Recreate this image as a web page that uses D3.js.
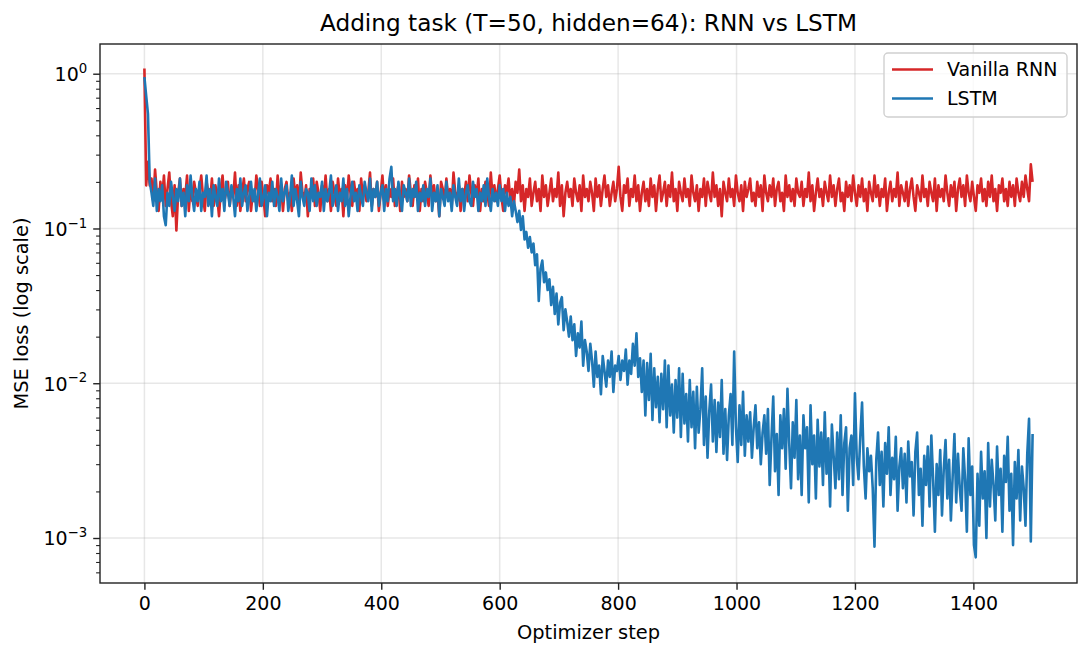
<!DOCTYPE html>
<html>
<head>
<meta charset="utf-8">
<script src="https://cdn.jsdelivr.net/npm/d3@7"></script>
<style>
  body { margin: 0; background: #fff; }
  svg { font-family: "DejaVu Sans", sans-serif; }
</style>
</head>
<body>
<div class="chart"></div>
<script>
const stepSize = 3;

const rnnLoss = [
  1.08, 0.19, 0.27, 0.19, 0.21, 0.15, 0.24, 0.17, 0.13, 0.20,
  0.16, 0.22, 0.14, 0.18, 0.23, 0.15, 0.12, 0.19, 0.097, 0.17,
  0.21, 0.14, 0.18, 0.16, 0.22, 0.13, 0.19, 0.15, 0.20, 0.17,
  0.14, 0.18, 0.22, 0.16, 0.13, 0.20, 0.17, 0.15, 0.21, 0.14,
  0.19, 0.16, 0.12, 0.18, 0.22, 0.15, 0.17, 0.20, 0.14, 0.18,
  0.16, 0.23, 0.14, 0.19, 0.13, 0.17, 0.21, 0.15, 0.18, 0.20,
  0.13, 0.17, 0.15, 0.22, 0.18, 0.14, 0.20, 0.16, 0.12, 0.19,
  0.17, 0.21, 0.15, 0.18, 0.14, 0.22, 0.16, 0.19, 0.13, 0.18,
  0.20, 0.15, 0.17, 0.13, 0.21, 0.16, 0.19, 0.14, 0.23, 0.17,
  0.15, 0.19, 0.12, 0.18, 0.16, 0.21, 0.14, 0.20, 0.17, 0.13,
  0.19, 0.16, 0.22, 0.15, 0.18, 0.13, 0.20, 0.17, 0.14, 0.21,
  0.16, 0.18, 0.12, 0.19, 0.15, 0.22, 0.17, 0.14, 0.20, 0.16,
  0.18, 0.13, 0.21, 0.16, 0.19, 0.15, 0.17, 0.23, 0.14, 0.18,
  0.16, 0.20, 0.13, 0.17, 0.22, 0.15, 0.19, 0.14, 0.18, 0.16,
  0.21, 0.14, 0.17, 0.19, 0.13, 0.20, 0.16, 0.18, 0.15, 0.22,
  0.17, 0.14, 0.19, 0.16, 0.21, 0.13, 0.18, 0.15, 0.20, 0.17,
  0.14, 0.22, 0.16, 0.19, 0.15, 0.17, 0.12, 0.20, 0.18, 0.15,
  0.21, 0.16, 0.18, 0.14, 0.23, 0.17, 0.15, 0.19, 0.13, 0.18,
  0.16, 0.20, 0.15, 0.22, 0.17, 0.14, 0.19, 0.16, 0.21, 0.13,
  0.18, 0.15, 0.20, 0.17, 0.14, 0.23, 0.16, 0.19, 0.15, 0.18,
  0.22, 0.16, 0.13, 0.19, 0.17, 0.21, 0.15, 0.18, 0.14, 0.20,
  0.17, 0.24, 0.15, 0.19, 0.13, 0.18, 0.16, 0.21, 0.14, 0.17,
  0.20, 0.15, 0.18, 0.13, 0.22, 0.16, 0.19, 0.14, 0.17, 0.21,
  0.15, 0.18, 0.16, 0.23, 0.14, 0.19, 0.12, 0.17, 0.20, 0.16,
  0.18, 0.14, 0.21, 0.17, 0.15, 0.19, 0.13, 0.22, 0.16, 0.18,
  0.15, 0.20, 0.17, 0.13, 0.21, 0.16, 0.19, 0.14, 0.18, 0.22,
  0.16, 0.19, 0.14, 0.17, 0.20, 0.15, 0.18, 0.25, 0.16, 0.13,
  0.19, 0.17, 0.21, 0.14, 0.18, 0.16, 0.22, 0.15, 0.19, 0.13,
  0.17, 0.20, 0.15, 0.18, 0.14, 0.21, 0.16, 0.19, 0.13, 0.18,
  0.22, 0.15, 0.17, 0.20, 0.14, 0.19, 0.16, 0.23, 0.15, 0.18,
  0.13, 0.20, 0.17, 0.15, 0.21, 0.16, 0.18, 0.14, 0.22, 0.17,
  0.15, 0.19, 0.13, 0.18, 0.16, 0.21, 0.14, 0.20, 0.17, 0.15,
  0.23, 0.16, 0.19, 0.14, 0.18, 0.12, 0.20, 0.17, 0.15, 0.21,
  0.16, 0.18, 0.14, 0.22, 0.17, 0.15, 0.19, 0.13, 0.20, 0.16,
  0.18, 0.21, 0.15, 0.17, 0.14, 0.20, 0.16, 0.19, 0.13, 0.22,
  0.17, 0.15, 0.19, 0.16, 0.21, 0.14, 0.18, 0.20, 0.15, 0.17,
  0.13, 0.22, 0.16, 0.19, 0.15, 0.18, 0.14, 0.21, 0.17, 0.16,
  0.20, 0.14, 0.18, 0.16, 0.23, 0.15, 0.19, 0.13, 0.17, 0.21,
  0.16, 0.18, 0.14, 0.20, 0.17, 0.15, 0.22, 0.16, 0.19, 0.14,
  0.18, 0.21, 0.15, 0.17, 0.13, 0.20, 0.16, 0.19, 0.15, 0.22,
  0.17, 0.14, 0.19, 0.16, 0.21, 0.15, 0.18, 0.13, 0.20, 0.17,
  0.15, 0.22, 0.16, 0.19, 0.14, 0.18, 0.16, 0.21, 0.13, 0.17,
  0.20, 0.15, 0.18, 0.16, 0.23, 0.14, 0.19, 0.17, 0.15, 0.20,
  0.14, 0.18, 0.21, 0.16, 0.13, 0.19, 0.17, 0.15, 0.22, 0.16,
  0.18, 0.14, 0.20, 0.17, 0.15, 0.21, 0.13, 0.19, 0.16, 0.18,
  0.15, 0.22, 0.17, 0.14, 0.19, 0.16, 0.20, 0.13, 0.18, 0.21,
  0.16, 0.19, 0.14, 0.22, 0.17, 0.15, 0.20, 0.16, 0.13, 0.19,
  0.17, 0.21, 0.15, 0.18, 0.14, 0.20, 0.16, 0.22, 0.15, 0.18,
  0.13, 0.19, 0.17, 0.21, 0.15, 0.18, 0.14, 0.20, 0.16, 0.19,
  0.14, 0.21, 0.17, 0.15, 0.20, 0.16, 0.22, 0.18, 0.15, 0.26,
  0.20
];

const lstmLoss = [
  0.95, 0.72, 0.55, 0.20, 0.17, 0.14, 0.21, 0.13, 0.18, 0.15,
  0.19, 0.12, 0.105, 0.17, 0.14, 0.20, 0.16, 0.13, 0.18, 0.15,
  0.21, 0.14, 0.17, 0.12, 0.19, 0.15, 0.22, 0.16, 0.13, 0.18,
  0.15, 0.20, 0.13, 0.17, 0.16, 0.22, 0.14, 0.18, 0.12, 0.19,
  0.16, 0.14, 0.21, 0.15, 0.18, 0.13, 0.20, 0.17, 0.14, 0.19,
  0.16, 0.12, 0.18, 0.15, 0.21, 0.14, 0.17, 0.19, 0.13, 0.16,
  0.20, 0.15, 0.18, 0.13, 0.17, 0.21, 0.14, 0.16, 0.19, 0.12,
  0.17, 0.15, 0.20, 0.14, 0.18, 0.16, 0.13, 0.21, 0.15, 0.17,
  0.19, 0.13, 0.16, 0.22, 0.14, 0.18, 0.15, 0.12, 0.20, 0.16,
  0.14, 0.18, 0.17, 0.13, 0.21, 0.15, 0.19, 0.14, 0.17, 0.16,
  0.20, 0.13, 0.18, 0.15, 0.17, 0.22, 0.14, 0.16, 0.19, 0.13,
  0.17, 0.15, 0.21, 0.14, 0.18, 0.12, 0.16, 0.20, 0.15, 0.17,
  0.13, 0.19, 0.16, 0.14, 0.20, 0.17, 0.15, 0.21, 0.13, 0.18,
  0.16, 0.20, 0.14, 0.17, 0.19, 0.13, 0.18, 0.15, 0.21, 0.25,
  0.15, 0.18, 0.14, 0.20, 0.16, 0.13, 0.19, 0.17, 0.15, 0.21,
  0.14, 0.18, 0.16, 0.20, 0.13, 0.17, 0.15, 0.19, 0.14, 0.18,
  0.16, 0.21, 0.13, 0.17, 0.15, 0.19, 0.12, 0.18, 0.16, 0.14,
  0.20, 0.15, 0.17, 0.13, 0.19, 0.16, 0.14, 0.21, 0.15, 0.18,
  0.13, 0.17, 0.19, 0.15, 0.14, 0.20, 0.16, 0.18, 0.13, 0.17,
  0.15, 0.19, 0.14, 0.21, 0.16, 0.13, 0.18, 0.15, 0.17, 0.14,
  0.19, 0.15, 0.18, 0.13, 0.17, 0.14, 0.16, 0.12, 0.15, 0.13,
  0.11, 0.13, 0.098, 0.12, 0.085, 0.095, 0.075, 0.088, 0.070, 0.080,
  0.058, 0.068, 0.034, 0.055, 0.062, 0.045, 0.052, 0.040, 0.047, 0.032,
  0.042, 0.028, 0.038, 0.024, 0.033, 0.036, 0.022, 0.030, 0.025, 0.020,
  0.027, 0.019, 0.024, 0.015, 0.021, 0.017, 0.025, 0.013, 0.019, 0.016,
  0.012, 0.018, 0.014, 0.0095, 0.016, 0.011, 0.013, 0.0085, 0.015, 0.012,
  0.0095, 0.014, 0.011, 0.016, 0.0088, 0.013, 0.012, 0.015, 0.0105, 0.014,
  0.012, 0.0165, 0.0098, 0.014, 0.0115, 0.018, 0.013, 0.021, 0.011, 0.0145,
  0.0088, 0.014, 0.0062, 0.0135, 0.0078, 0.0155, 0.0058, 0.0125, 0.0070, 0.011,
  0.0056, 0.0115, 0.0068, 0.014, 0.0052, 0.013, 0.0062, 0.0098, 0.0048, 0.0105,
  0.0060, 0.0125, 0.0045, 0.0115, 0.0055, 0.0085, 0.0042, 0.0105, 0.0052, 0.0088,
  0.0038, 0.0095, 0.0048, 0.0068, 0.0125, 0.0040, 0.0082, 0.0033, 0.0066, 0.0098,
  0.0042, 0.0078, 0.0036, 0.0075, 0.0045, 0.0105, 0.0035, 0.0068, 0.0032, 0.0062,
  0.0085, 0.0040, 0.016, 0.0052, 0.0031, 0.0072, 0.0040, 0.0088, 0.0034, 0.0062,
  0.0042, 0.0065, 0.0033, 0.0052, 0.0072, 0.0038, 0.0056, 0.0030, 0.0048, 0.0062,
  0.0035, 0.0068, 0.0022, 0.0044, 0.0082, 0.0027, 0.0047, 0.0019, 0.0062, 0.0038,
  0.0068, 0.0028, 0.0092, 0.0041, 0.0021, 0.0056, 0.0033, 0.0078, 0.0024, 0.0046,
  0.0019, 0.0062, 0.0038, 0.0052, 0.0017, 0.0072, 0.0030, 0.0046, 0.0018, 0.0058,
  0.0029, 0.0048, 0.0022, 0.0065, 0.0026, 0.0044, 0.0016, 0.0054, 0.0034, 0.0021,
  0.0048, 0.0024, 0.0062, 0.0019, 0.0041, 0.0052, 0.0015, 0.0038, 0.0046, 0.0022,
  0.0086, 0.0033, 0.0024, 0.0045, 0.0075, 0.0029, 0.0018, 0.0038, 0.0027, 0.0034,
  0.0021, 0.00088, 0.0032, 0.0048, 0.0022, 0.0036, 0.0016, 0.0041, 0.0026, 0.0052,
  0.0019, 0.0033, 0.0024, 0.0045, 0.0015, 0.0029, 0.0038, 0.0021, 0.0035, 0.0017,
  0.0042, 0.0025, 0.0031, 0.0014, 0.0036, 0.0048, 0.0019, 0.0028, 0.0012, 0.0034,
  0.0022, 0.0039, 0.0016, 0.0046, 0.0024, 0.0011, 0.0030, 0.0019, 0.0037, 0.0014,
  0.0028, 0.0043, 0.0018, 0.0032, 0.0013, 0.0025, 0.0047, 0.0017, 0.0035, 0.0021,
  0.0015, 0.0038, 0.0024, 0.0011, 0.0044, 0.0019, 0.0029, 0.0009, 0.00075, 0.0026,
  0.0012, 0.0036, 0.0018, 0.0027, 0.0010, 0.0041, 0.0016, 0.0032, 0.0022, 0.0013,
  0.0039, 0.0019, 0.0028, 0.0011, 0.0034, 0.0023, 0.0045, 0.0015, 0.0026, 0.0009,
  0.0031, 0.0018, 0.0037, 0.0013, 0.0029, 0.0021, 0.0012, 0.0035, 0.0059, 0.00095,
  0.0047
];

const seriesNames = ['Vanilla RNN', 'LSTM'];
const seriesColors = ['#d62728', '#1f77b4'];
const xTicks = [0, 200, 400, 600, 800, 1000, 1200, 1400];
const yTicks = [1e-3, 1e-2, 1e-1, 1e0];

const W = 1090, H = 656;
const margin = {top: 44, left: 100, right: 13, bottom: 73};
const width = W - margin.left - margin.right;
const height = H - margin.top - margin.bottom;

const svg = d3.select('.chart')
    .append('svg')
    .attr('width', W)
    .attr('height', H);

const g = svg.append('g')
    .attr('transform', `translate(${margin.left},${margin.top})`);

// scales (matplotlib-like 5% margins)
const xScale = d3.scaleLinear()
    .domain([-75, 1575])
    .range([0, width]);

const yScale = d3.scaleLog()
    .domain([5.12e-4, 1.556])
    .range([height, 0]);

// grid
g.append('g')
    .selectAll('line')
    .data(xTicks)
    .join('line')
    .attr('x1', d => xScale(d)).attr('x2', d => xScale(d))
    .attr('y1', 0).attr('y2', height)
    .attr('stroke', '#b0b0b0').attr('stroke-opacity', 0.3).attr('stroke-width', 1.5);

g.append('g')
    .selectAll('line')
    .data(yTicks)
    .join('line')
    .attr('x1', 0).attr('x2', width)
    .attr('y1', d => yScale(d)).attr('y2', d => yScale(d))
    .attr('stroke', '#b0b0b0').attr('stroke-opacity', 0.3).attr('stroke-width', 1.5);

// lines
g.append('clipPath').attr('id', 'clip')
    .append('rect').attr('width', width).attr('height', height);

const line = d3.line()
    .x((d, i) => xScale(i * stepSize))
    .y(d => yScale(d));

[rnnLoss, lstmLoss].forEach((s, k) => {
    g.append('path')
        .datum(s)
        .attr('clip-path', 'url(#clip)')
        .attr('fill', 'none')
        .attr('stroke', seriesColors[k])
        .attr('stroke-width', 2.6)
        .attr('stroke-linejoin', 'round')
        .attr('d', line);
});

// axes
const xAxis = d3.axisBottom(xScale)
    .tickValues(xTicks)
    .tickSize(6.8)
    .tickPadding(6.5)
    .tickFormat(d3.format('d'));

g.append('g')
    .attr('transform', `translate(0,${height})`)
    .call(xAxis)
    .call(a => a.select('.domain').remove())
    .call(a => a.selectAll('.tick line').attr('stroke', '#222').attr('stroke-width', 1.4))
    .call(a => a.selectAll('text').attr('font-size', 19).attr('fill', '#000').attr('font-family', 'DejaVu Sans'));

const minor = [];
[-4, -3, -2, -1, 0].forEach(e => {
    for (let m = 2; m <= 9; m++) {
        const v = m * Math.pow(10, e);
        if (v >= yScale.domain()[0] && v <= yScale.domain()[1]) minor.push(v);
    }
});

g.append('g')
    .call(d3.axisLeft(yScale).tickValues(minor).tickSize(3.9).tickFormat(''))
    .call(a => a.select('.domain').remove())
    .call(a => a.selectAll('.tick line').attr('stroke', '#222').attr('stroke-width', 1.1));

g.append('g')
    .call(d3.axisLeft(yScale).tickValues(yTicks).tickSize(6.8).tickPadding(6).tickFormat(''))
    .call(a => a.select('.domain').remove())
    .call(a => a.selectAll('.tick line').attr('stroke', '#222').attr('stroke-width', 1.4))
    .call(a => a.selectAll('.tick text').each(function(d) {
        const t = d3.select(this)
            .attr('font-size', 19)
            .attr('fill', '#000')
            .attr('font-family', 'DejaVu Sans')
            .attr('dy', '0.36em');
        const e = Math.round(Math.log10(d));
        t.append('tspan').text('10');
        t.append('tspan')
            .attr('font-size', 13.3)
            .attr('dy', '-0.62em')
            .text(e < 0 ? '\u2212' + (-e) : String(e));
    }));

// frame
g.append('rect')
    .attr('width', width).attr('height', height)
    .attr('fill', 'none')
    .attr('stroke', '#222')
    .attr('stroke-width', 1.4);

// titles
svg.append('text')
    .attr('x', margin.left + width / 2)
    .attr('y', 31)
    .attr('text-anchor', 'middle')
    .attr('font-size', 23.2)
    .text('Adding task (T=50, hidden=64): RNN vs LSTM');

svg.append('text')
    .attr('x', margin.left + width / 2)
    .attr('y', 639)
    .attr('text-anchor', 'middle')
    .attr('font-size', 19.4)
    .text('Optimizer step');

svg.append('text')
    .attr('transform', `translate(28,${margin.top + height / 2}) rotate(-90)`)
    .attr('text-anchor', 'middle')
    .attr('font-size', 19.4)
    .text('MSE loss (log scale)');

// legend
const legend = svg.append('g')
    .attr('transform', 'translate(884,53)');

legend.append('rect')
    .attr('width', 183).attr('height', 64)
    .attr('rx', 4)
    .attr('fill', '#fff').attr('fill-opacity', 0.8)
    .attr('stroke', '#d0d0d0').attr('stroke-width', 1.4);

seriesNames.forEach((name, i) => {
    const y = 16.5 + i * 29;
    legend.append('line')
        .attr('x1', 8).attr('x2', 49)
        .attr('y1', y).attr('y2', y)
        .attr('stroke', seriesColors[i])
        .attr('stroke-width', 2.6);
    legend.append('text')
        .attr('x', 63).attr('y', y)
        .attr('dy', '0.35em')
        .attr('font-size', 19)
        .text(name);
});
</script>
</body>
</html>
